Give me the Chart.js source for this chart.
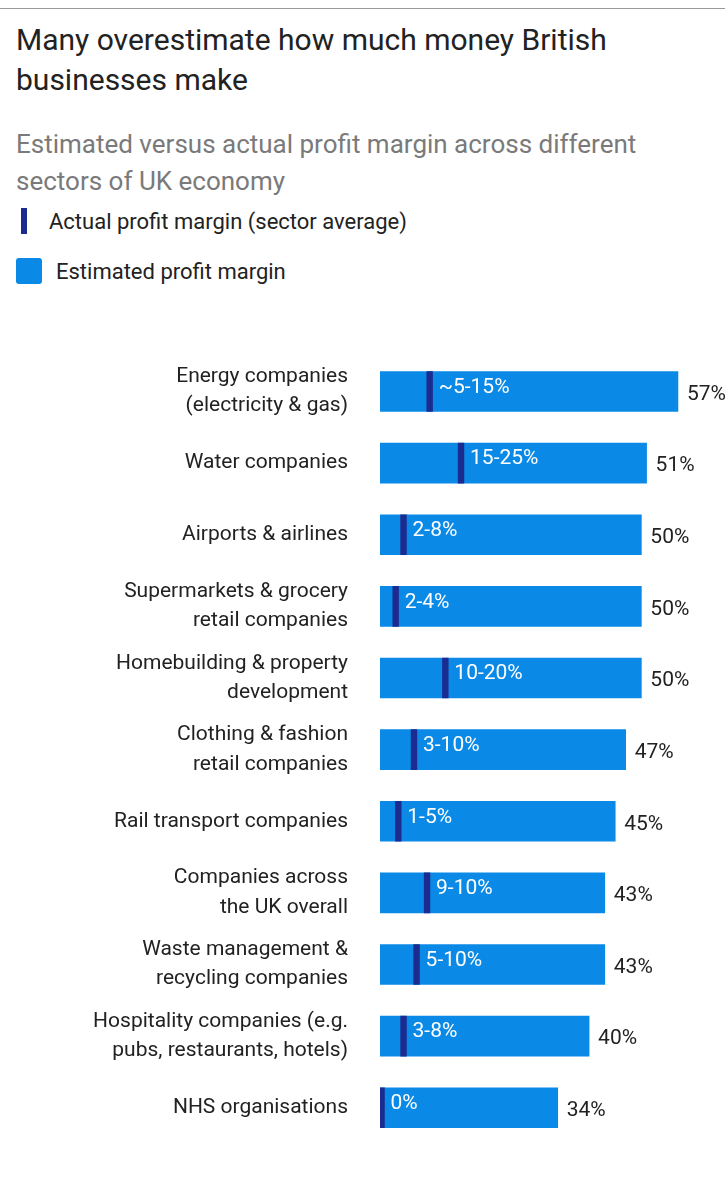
<!DOCTYPE html>
<html><head><meta charset="utf-8">
<script src="https://cdn.jsdelivr.net/npm/chart.js@4"></script>
<style>
body{margin:0;background:#fff;font-family:Roboto,"Liberation Sans",sans-serif;color:#222;width:725px;height:1200px;position:relative;overflow:hidden}
.rule{position:absolute;left:0;top:8px;width:725px;height:1px;background:#999}
h1{position:absolute;left:16px;top:20px;margin:0;font-weight:400;font-size:30px;line-height:40px;width:700px}
h2{position:absolute;left:16px;top:126px;margin:0;font-weight:400;font-size:26px;line-height:37px;color:#7a7a7a;width:695px}
.lg{position:absolute;left:16px;font-size:22px;display:flex;align-items:center}
.lg i{display:inline-block;margin-right:14px}
#wrap{position:absolute;left:0;top:317px;width:725px;height:880px}
</style></head><body>
<div class="rule"></div>
<h1>Many overestimate how much money British businesses make</h1>
<h2>Estimated versus actual profit margin across different sectors of UK economy</h2>
<div class="lg" style="top:208px"><i style="width:6px;height:26px;background:#1c2b8f;margin-left:5px;margin-right:22px"></i>Actual profit margin (sector average)</div>
<div class="lg" style="top:258px"><i style="width:26px;height:26px;background:#0a8ae6;border-radius:3px"></i>Estimated profit margin</div>
<div id="wrap"><canvas id="c"></canvas></div>
<script>
const categories = [
  ['Energy companies','(electricity & gas)'],
  'Water companies',
  'Airports & airlines',
  ['Supermarkets & grocery','retail companies'],
  ['Homebuilding & property','development'],
  ['Clothing & fashion','retail companies'],
  'Rail transport companies',
  ['Companies across','the UK overall'],
  ['Waste management &','recycling companies'],
  ['Hospitality companies (e.g.','pubs, restaurants, hotels)'],
  'NHS organisations'
];
const estimated = [57, 51, 50, 50, 50, 47, 45, 43, 43, 40, 34];
const actualMarker = [9.5, 15.5, 4.5, 3, 12.5, 6.5, 3.5, 9, 7, 4.5, 0.3];
const actualRange = ['~5-15%', '15-25%', '2-8%', '2-4%', '10-20%', '3-10%', '1-5%', '9-10%', '5-10%', '3-8%', '0%'];

const labelPlugin = {
  id: 'labels',
  afterDatasetsDraw(chart) {
    const ctx = chart.ctx, x = chart.scales.x;
    const bars = chart.getDatasetMeta(0).data;
    ctx.save();
    ctx.textBaseline = 'middle';
    ctx.font = '21px Roboto, sans-serif';
    bars.forEach((b, i) => {
      ctx.fillStyle = '#222';
      ctx.textAlign = 'left';
      ctx.fillText(estimated[i] + '%', b.x + 9, b.y + 3);
      ctx.fillStyle = '#fff';
      ctx.fillText(actualRange[i], x.getPixelForValue(actualMarker[i]) + 9, b.y - 4);
    });
    ctx.restore();
  }
};

new Chart(document.getElementById('c'), {
  type: 'bar',
  data: {
    labels: categories,
    datasets: [{
      data: estimated,
      backgroundColor: '#0a8ae6',
      barThickness: 40,
      order: 2
    }, {
      data: actualMarker.map(v => [v - 0.55, v + 0.55]),
      backgroundColor: '#1c2b8f',
      barThickness: 40,
      order: 1
    }]
  },
  options: {
    indexAxis: 'y',
    responsive: true,
    maintainAspectRatio: false,
    animation: false,
    layout: { padding: 0 },
    datasets: { bar: { grouped: false } },
    plugins: { legend: { display: false }, tooltip: { enabled: false } },
    scales: {
      x: { min: 0, max: 66, display: false },
      y: {
        grid: { display: false },
        border: { display: false },
        afterFit(s) { s.width = 380; },
        ticks: {
          color: '#222',
          padding: 24,
          font: { size: 21, family: 'Roboto, sans-serif', lineHeight: 1.4 }
        }
      }
    }
  },
  plugins: [labelPlugin]
});
</script>
</body></html>
